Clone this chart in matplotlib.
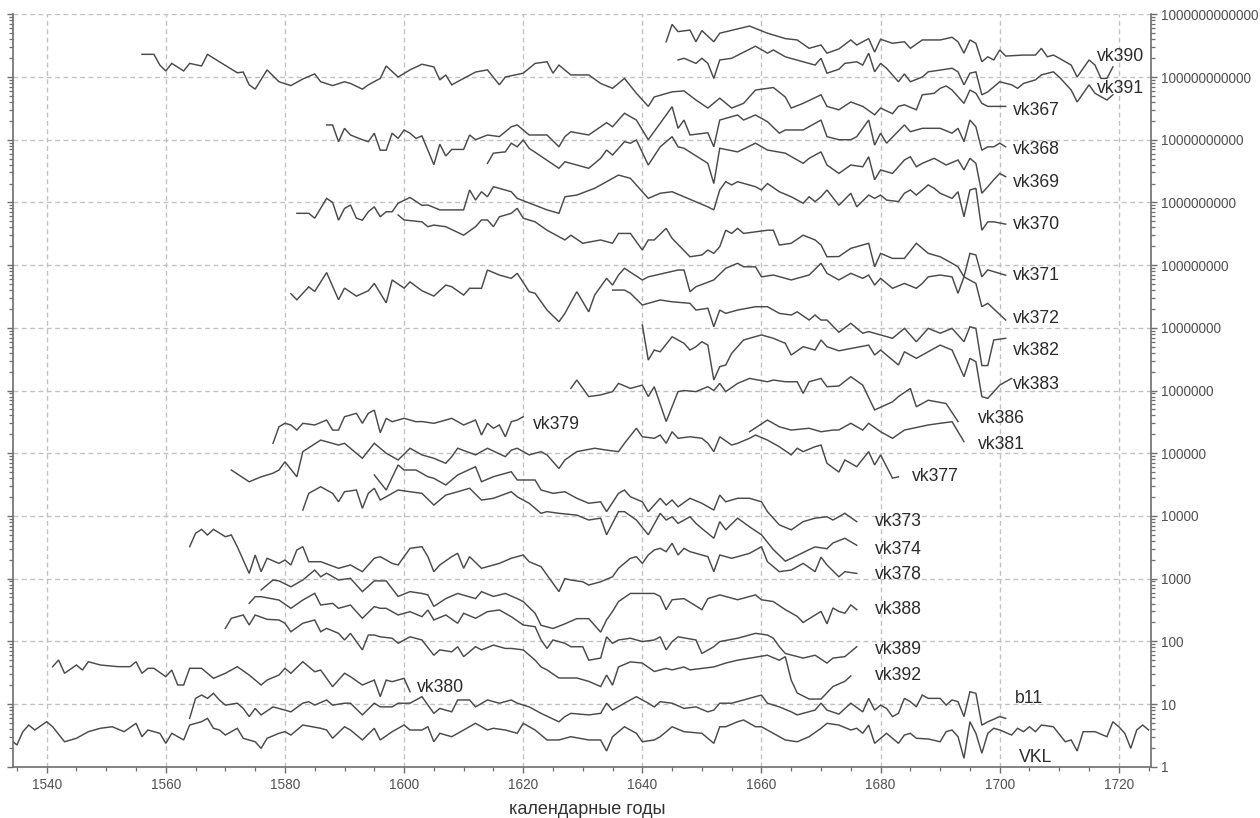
import numpy as np
import matplotlib
matplotlib.use("Agg")
import matplotlib.pyplot as plt
from matplotlib.ticker import FixedLocator, MultipleLocator, LogLocator, FuncFormatter, NullFormatter

plt.rcParams["font.family"] = ["Liberation Sans", "DejaVu Sans"]

# ring-width indices (vertex years), each series is
# drawn as index * its offset factor on the log axis
vk390_years = [1644, 1645, 1646, 1648, 1649, 1650, 1652, 1653, 1658, 1661, 1664, 1666, 1668, 1670, 1671, 1673, 1675,
               1676, 1678, 1679, 1680, 1682, 1684, 1685, 1687, 1690, 1692, 1693, 1694, 1695, 1696, 1697, 1698, 1699,
               1700, 1701, 1704, 1706, 1707, 1708, 1709, 1710, 1712, 1713, 1715, 1716, 1717, 1718, 1719]
vk390_idx = [3.65, 6.9, 5.3, 5.6, 3.65, 5.5, 3.65, 5.0, 6.5, 5.0, 4.1, 3.9, 2.87, 3.24, 2.4, 2.8, 3.9, 3.24, 4.1, 2.5,
             4.0, 3.45, 3.65, 2.87, 3.9, 3.9, 4.3, 3.65, 2.4, 3.9, 3.45, 1.75, 2.1, 1.87, 2.7, 2.16, 2.24, 2.24, 2.87,
             2.1, 2.24, 1.99, 1.55, 1.0, 1.87, 1.55, 0.95, 0.95, 1.45]

vk391_years = [1646, 1647, 1649, 1650, 1651, 1652, 1653, 1655, 1659, 1661, 1662, 1664, 1667, 1669, 1670, 1671, 1673,
               1674, 1676, 1677, 1678, 1679, 1680, 1681, 1683, 1684, 1685, 1687, 1688, 1690, 1692, 1693, 1694, 1695,
               1696, 1697, 1698, 1700, 1702, 1703, 1704, 1706, 1707, 1709, 1710, 1712, 1713, 1715, 1716, 1718, 1719]
vk391_idx = [1.87, 1.99, 1.65, 1.99, 1.65, 0.95, 1.87, 1.99, 3.1, 2.4, 2.7, 2.1, 1.75, 1.55, 1.99, 1.15, 1.33, 1.65,
             1.75, 1.55, 2.4, 1.21, 1.65, 1.38, 0.84, 1.12, 0.84, 1.0, 1.21, 1.29, 1.38, 1.21, 0.75, 1.15, 1.21, 0.52,
             0.58, 0.84, 0.75, 0.66, 0.79, 0.9, 1.08, 1.21, 1.0, 0.62, 0.4, 0.75, 0.55, 0.43, 0.52]

vk367_years = [1556, 1558, 1559, 1560, 1561, 1563, 1564, 1566, 1567, 1569, 1572, 1573, 1574, 1575, 1577, 1579, 1581,
               1583, 1585, 1586, 1588, 1590, 1591, 1593, 1594, 1596, 1597, 1599, 1601, 1603, 1605, 1606, 1607, 1608,
               1610, 1612, 1614, 1616, 1617, 1620, 1622, 1624, 1625, 1626, 1628, 1631, 1633, 1635, 1637, 1639, 1641,
               1642, 1645, 1647, 1649, 1651, 1653, 1655, 1657, 1659, 1662, 1664, 1665, 1667, 1670, 1671, 1673, 1675,
               1677, 1679, 1680, 1682, 1683, 1684, 1686, 1687, 1689, 1690, 1691, 1692, 1694, 1695, 1696, 1697, 1698,
               1701]
vk367_idx = [2.3, 2.3, 1.55, 1.25, 1.65, 1.25, 1.65, 1.5, 2.3, 1.75, 1.17, 1.2, 0.75, 0.64, 1.3, 0.84, 0.73, 0.93,
             1.12, 0.84, 0.73, 0.84, 0.79, 0.64, 0.75, 0.95, 1.5, 1.0, 1.3, 1.6, 1.45, 0.9, 1.08, 0.75, 0.95, 1.2, 1.3,
             0.75, 1.0, 1.15, 1.65, 1.75, 1.15, 1.55, 1.08, 1.08, 0.79, 0.66, 0.95, 0.55, 0.34, 0.48, 0.58, 0.6, 0.43,
             0.32, 0.46, 0.32, 0.38, 0.62, 0.68, 0.48, 0.32, 0.38, 0.52, 0.34, 0.3, 0.4, 0.34, 0.25, 0.32, 0.26, 0.34,
             0.36, 0.3, 0.52, 0.55, 0.66, 0.72, 0.62, 0.38, 0.62, 0.55, 0.38, 0.34, 0.34]

vk368_years = [1587, 1588, 1589, 1590, 1591, 1593, 1594, 1595, 1596, 1597, 1598, 1599, 1600, 1601, 1602, 1603, 1605,
               1606, 1607, 1608, 1610, 1611, 1612, 1614, 1616, 1618, 1619, 1621, 1624, 1626, 1627, 1628, 1631, 1634,
               1635, 1637, 1639, 1641, 1643, 1645, 1646, 1647, 1648, 1651, 1652, 1653, 1656, 1657, 1659, 1661, 1663,
               1664, 1667, 1670, 1671, 1673, 1675, 1676, 1678, 1679, 1680, 1681, 1684, 1685, 1687, 1690, 1692, 1693,
               1694, 1695, 1696, 1697, 1698, 1699, 1700, 1701]
vk368_idx = [1.72, 1.72, 0.93, 1.52, 1.19, 1.0, 0.93, 1.27, 0.68, 0.68, 1.27, 1.05, 1.43, 1.27, 1.05, 1.15, 0.4, 0.85,
             0.55, 0.7, 0.7, 1.19, 1.0, 1.19, 1.12, 1.61, 1.72, 1.19, 1.19, 0.77, 1.12, 1.34, 1.19, 1.87, 1.61, 2.64,
             2.06, 1.0, 1.83, 3.36, 1.52, 2.06, 1.19, 1.29, 0.77, 2.06, 2.48, 2.06, 2.48, 1.94, 1.27, 1.43, 1.43, 2.06,
             1.12, 1.0, 1.0, 1.12, 2.06, 0.82, 1.27, 0.88, 1.72, 1.34, 1.52, 1.52, 1.27, 1.52, 0.93, 2.06, 1.61, 0.68,
             0.77, 0.77, 0.88, 0.77]

vk369_years = [1614, 1615, 1617, 1618, 1619, 1620, 1621, 1626, 1627, 1629, 1631, 1633, 1634, 1635, 1637, 1638, 1639,
               1641, 1643, 1645, 1646, 1647, 1651, 1652, 1653, 1656, 1659, 1661, 1664, 1667, 1668, 1670, 1671, 1673,
               1675, 1677, 1678, 1679, 1680, 1682, 1684, 1685, 1686, 1687, 1689, 1691, 1693, 1694, 1695, 1696, 1697,
               1698, 1699, 1700, 1701]
vk369_idx = [4.2, 6.1, 6.4, 8.8, 7.7, 9.9, 7.3, 3.5, 4.45, 3.95, 3.5, 5.05, 6.85, 5.7, 9.3, 8.8, 9.9, 3.95, 7.7, 11.2,
             7.7, 7.3, 4.2, 2.0, 7.3, 6.4, 8.8, 6.85, 6.1, 4.2, 5.05, 6.4, 3.95, 2.9, 3.95, 3.7, 5.35, 2.3, 3.3, 2.9,
             4.75, 5.35, 3.7, 4.2, 5.05, 3.95, 4.75, 3.3, 5.05, 4.2, 1.4, 1.78, 2.3, 2.9, 2.57]

vk370_years = [1582, 1584, 1585, 1587, 1588, 1589, 1590, 1591, 1592, 1593, 1594, 1595, 1596, 1597, 1598, 1599, 1601,
               1603, 1604, 1606, 1610, 1611, 1612, 1613, 1614, 1615, 1618, 1619, 1624, 1626, 1627, 1629, 1632, 1634,
               1636, 1638, 1641, 1643, 1645, 1647, 1651, 1652, 1653, 1654, 1655, 1656, 1659, 1660, 1661, 1663, 1665,
               1667, 1668, 1669, 1670, 1671, 1673, 1675, 1676, 1678, 1679, 1680, 1681, 1683, 1684, 1685, 1686, 1688,
               1689, 1690, 1692, 1693, 1694, 1695, 1696, 1697, 1698, 1699, 1701]
vk370_idx = [0.67, 0.67, 0.56, 1.16, 1.0, 0.52, 0.8, 0.91, 0.56, 0.52, 0.71, 0.85, 0.59, 0.71, 0.71, 0.97, 1.2, 0.9,
             0.91, 0.76, 0.76, 1.58, 1.09, 1.48, 1.23, 1.78, 1.48, 1.16, 0.76, 0.67, 1.23, 1.31, 1.68, 2.14, 2.73, 2.42,
             1.16, 1.4, 1.48, 1.23, 0.85, 0.76, 1.58, 2.14, 1.9, 2.14, 1.78, 1.58, 2.0, 1.48, 1.23, 0.97, 1.23, 1.03,
             1.23, 1.58, 0.9, 1.4, 0.85, 1.31, 1.16, 1.31, 1.09, 1.03, 1.4, 1.58, 1.31, 1.9, 1.68, 1.4, 1.16, 1.48,
             0.59, 1.58, 1.68, 0.36, 0.49, 0.49, 0.45]

vk371_years = [1599, 1600, 1603, 1604, 1605, 1607, 1610, 1612, 1613, 1614, 1615, 1616, 1618, 1619, 1620, 1622, 1624,
               1626, 1627, 1628, 1630, 1633, 1635, 1636, 1638, 1640, 1641, 1642, 1644, 1645, 1648, 1650, 1651, 1652,
               1653, 1654, 1655, 1656, 1657, 1661, 1662, 1663, 1665, 1667, 1669, 1670, 1671, 1673, 1675, 1678, 1679,
               1680, 1682, 1684, 1686, 1688, 1690, 1692, 1693, 1694, 1695, 1696, 1697, 1698, 1701]
vk371_idx = [6.3, 5.25, 4.9, 4.1, 4.35, 4.1, 3.0, 4.1, 5.25, 5.25, 4.1, 5.9, 6.7, 8.05, 5.6, 4.9, 3.6, 2.84, 2.52, 3.0,
             2.23, 2.52, 2.23, 3.2, 3.2, 1.74, 2.52, 2.52, 3.86, 2.67, 1.36, 1.45, 1.74, 1.54, 1.97, 3.6, 3.2, 3.86,
             3.2, 3.6, 3.6, 2.09, 2.23, 3.0, 2.52, 2.09, 1.36, 1.37, 1.85, 2.23, 0.94, 1.54, 1.28, 1.28, 2.23, 1.54,
             1.36, 1.07, 0.94, 0.65, 1.54, 1.45, 0.65, 0.84, 0.69]

vk372_years = [1581, 1582, 1584, 1585, 1587, 1589, 1590, 1592, 1594, 1595, 1597, 1598, 1600, 1601, 1603, 1605, 1607,
               1608, 1610, 1611, 1613, 1614, 1616, 1618, 1619, 1621, 1622, 1624, 1626, 1627, 1629, 1630, 1631, 1632,
               1634, 1635, 1636, 1637, 1640, 1641, 1646, 1647, 1648, 1649, 1652, 1654, 1656, 1657, 1659, 1660, 1662,
               1665, 1668, 1670, 1671, 1673, 1675, 1677, 1678, 1679, 1680, 1682, 1684, 1686, 1687, 1688, 1690, 1692,
               1693, 1694, 1696, 1697, 1698, 1701]
vk372_idx = [3.5, 2.8, 4.5, 3.8, 7.6, 2.8, 4.3, 3.2, 3.9, 5.1, 2.5, 5.8, 4.3, 5.4, 3.9, 3.21, 4.8, 4.52, 3.33, 4.27,
             4.27, 8.35, 6.95, 6.15, 7.4, 3.77, 3.55, 1.92, 1.25, 1.7, 3.77, 2.6, 1.8, 3.33, 6.15, 4.8, 6.95, 8.9, 5.8,
             6.5, 8.35, 8.35, 3.77, 4.52, 5.8, 8.9, 10.7, 9.4, 9.4, 6.5, 6.95, 5.8, 6.95, 10.7, 7.4, 5.8, 7.4, 6.15,
             6.95, 4.8, 6.15, 4.27, 5.1, 4.27, 5.1, 6.5, 6.95, 6.5, 3.55, 6.5, 5.1, 2.17, 2.46, 1.33]

vk382_years = [1635, 1637, 1638, 1640, 1643, 1645, 1648, 1649, 1651, 1652, 1653, 1654, 1656, 1659, 1661, 1663, 1665,
               1666, 1668, 1669, 1670, 1671, 1673, 1675, 1677, 1678, 1680, 1682, 1684, 1686, 1688, 1690, 1692, 1694,
               1695, 1696, 1697, 1698, 1699, 1701]
vk382_idx = [4.0, 4.0, 3.55, 2.31, 2.78, 2.6, 2.46, 1.92, 2.05, 1.04, 1.92, 1.7, 1.92, 2.17, 2.17, 1.7, 1.6, 1.8, 1.33,
             1.6, 1.33, 1.33, 0.85, 1.18, 0.82, 0.87, 0.77, 0.68, 0.98, 0.6, 0.98, 0.82, 0.98, 0.6, 1.04, 0.98, 0.25,
             0.25, 0.64, 0.68]

vk383_years = [1640, 1641, 1642, 1643, 1645, 1647, 1648, 1649, 1650, 1651, 1652, 1653, 1654, 1655, 1657, 1660, 1662,
               1664, 1665, 1667, 1669, 1670, 1671, 1673, 1678, 1679, 1680, 1683, 1684, 1686, 1690, 1692, 1694, 1695,
               1696, 1697, 1698, 1700, 1701, 1702]
vk383_idx = [11.1, 3.06, 4.42, 4.15, 7.2, 5.66, 4.42, 5.0, 6.0, 5.3, 1.47, 2.4, 2.55, 3.92, 6.4, 7.7, 6.8, 5.66, 3.68,
             5.0, 4.42, 6.4, 5.0, 4.3, 5.3, 3.68, 4.42, 2.55, 4.15, 3.26, 5.3, 4.42, 1.66, 3.26, 2.88, 0.8, 0.75, 1.22,
             1.38, 1.56]

vk386_years = [1628, 1629, 1631, 1633, 1635, 1636, 1638, 1640, 1641, 1642, 1644, 1646, 1647, 1649, 1651, 1652, 1653,
               1654, 1656, 1658, 1661, 1662, 1664, 1666, 1667, 1668, 1670, 1671, 1673, 1675, 1677, 1679, 1682, 1683,
               1685, 1686, 1688, 1691, 1693]
vk386_idx = [1.08, 1.47, 0.8, 0.85, 0.96, 1.3, 1.08, 1.22, 0.8, 1.15, 0.32, 0.96, 1.0, 0.96, 1.15, 1.0, 1.3, 0.96, 1.3,
             1.56, 1.38, 1.47, 1.38, 1.38, 0.9, 1.38, 1.56, 1.15, 1.18, 1.66, 1.22, 0.49, 0.66, 0.8, 1.08, 0.55, 0.7,
             0.62, 0.32]

vk381_years = [1658, 1661, 1663, 1665, 1668, 1670, 1672, 1673, 1675, 1677, 1678, 1680, 1682, 1684, 1688, 1690, 1692,
               1694]
vk381_idx = [2.2, 3.38, 2.64, 2.34, 2.5, 2.2, 2.34, 2.35, 3.0, 2.34, 3.0, 2.2, 1.73, 2.34, 2.82, 3.0, 3.18, 1.53]

vk379_years = [1578, 1579, 1580, 1581, 1582, 1583, 1585, 1587, 1588, 1589, 1590, 1592, 1593, 1594, 1595, 1596, 1597,
               1598, 1600, 1602, 1603, 1605, 1607, 1608, 1610, 1612, 1613, 1614, 1615, 1616, 1617, 1618, 1619, 1620]
vk379_idx = [1.44, 2.64, 3.0, 2.82, 2.34, 3.0, 2.82, 3.38, 2.34, 2.34, 3.82, 4.33, 3.0, 4.33, 4.88, 2.12, 3.6, 3.18,
             3.6, 3.18, 3.2, 3.0, 3.38, 3.6, 2.82, 3.38, 1.95, 3.0, 2.5, 2.82, 1.83, 3.18, 3.38, 3.82]

vk377_years = [1571, 1574, 1576, 1578, 1579, 1580, 1582, 1583, 1586, 1589, 1590, 1593, 1595, 1597, 1599, 1601, 1603,
               1605, 1607, 1608, 1609, 1612, 1614, 1617, 1618, 1619, 1621, 1623, 1624, 1626, 1627, 1629, 1632, 1634,
               1636, 1637, 1639, 1640, 1642, 1643, 1644, 1645, 1646, 1648, 1650, 1651, 1652, 1653, 1655, 1656, 1658,
               1659, 1661, 1663, 1665, 1666, 1667, 1669, 1670, 1671, 1673, 1674, 1676, 1678, 1679, 1680, 1682, 1683]
vk377_idx = [0.54, 0.35, 0.42, 0.48, 0.54, 0.73, 0.42, 1.06, 1.62, 1.35, 1.44, 0.83, 1.44, 1.0, 0.78, 1.2, 0.94, 0.83,
             0.69, 0.88, 1.2, 0.94, 1.2, 0.88, 1.12, 1.2, 0.94, 1.06, 0.94, 0.57, 0.78, 1.06, 1.2, 1.12, 1.06, 1.44,
             2.5, 1.83, 1.73, 1.95, 1.44, 2.2, 1.73, 1.83, 1.73, 1.44, 1.06, 1.83, 1.35, 1.44, 1.73, 1.95, 1.62, 1.27,
             0.94, 1.2, 1.06, 1.27, 1.35, 0.69, 0.5, 0.78, 0.61, 1.06, 0.65, 0.94, 0.4, 0.42]

vk373_years = [1595, 1597, 1599, 1600, 1602, 1604, 1605, 1607, 1609, 1612, 1613, 1615, 1618, 1619, 1622, 1623, 1625,
               1627, 1629, 1631, 1633, 1634, 1636, 1637, 1638, 1640, 1641, 1643, 1644, 1645, 1646, 1648, 1650, 1652,
               1653, 1654, 1656, 1658, 1660, 1661, 1663, 1665, 1667, 1669, 1671, 1672, 1674, 1676]
vk373_idx = [4.5, 2.59, 6.5, 5.4, 5.4, 4.22, 3.98, 3.11, 4.5, 6.1, 3.51, 4.22, 5.07, 3.74, 3.74, 2.59, 2.29, 2.43,
             1.91, 1.59, 1.68, 1.17, 2.29, 2.59, 2.02, 1.68, 1.17, 1.91, 1.49, 1.79, 1.4, 1.91, 1.59, 1.24, 2.15, 1.68,
             1.91, 1.91, 1.68, 1.17, 0.72, 0.6, 0.81, 0.92, 0.97, 0.86, 1.1, 0.81]

vk374_years = [1583, 1584, 1586, 1588, 1589, 1590, 1592, 1593, 1594, 1595, 1596, 1598, 1599, 1601, 1603, 1605, 1607,
               1609, 1611, 1613, 1615, 1618, 1619, 1621, 1623, 1624, 1626, 1629, 1631, 1633, 1634, 1636, 1637, 1639,
               1641, 1643, 1644, 1645, 1646, 1648, 1649, 1650, 1652, 1653, 1654, 1656, 1658, 1660, 1662, 1664, 1665,
               1668, 1669, 1671, 1672, 1674, 1676]
vk374_idx = [1.24, 2.29, 2.92, 2.29, 1.68, 2.43, 2.59, 1.32, 2.29, 2.76, 1.79, 2.29, 2.59, 2.43, 2.29, 1.49, 2.15,
             2.43, 2.76, 1.79, 1.91, 2.43, 2.02, 1.59, 1.1, 1.17, 1.1, 1.03, 0.86, 0.92, 0.5, 1.17, 1.17, 0.86, 0.5,
             1.1, 0.86, 0.97, 0.76, 0.97, 0.76, 0.63, 0.44, 0.81, 0.6, 0.92, 0.67, 0.5, 0.29, 0.19, 0.21, 0.29, 0.32,
             0.3, 0.37, 0.44, 0.34]

vk378_years = [1564, 1565, 1566, 1567, 1568, 1570, 1571, 1572, 1574, 1575, 1576, 1577, 1579, 1580, 1581, 1582, 1583,
               1584, 1586, 1589, 1591, 1593, 1595, 1596, 1598, 1599, 1601, 1603, 1604, 1605, 1606, 1608, 1609, 1610,
               1611, 1613, 1616, 1618, 1620, 1621, 1623, 1624, 1626, 1627, 1628, 1630, 1631, 1633, 1635, 1636, 1638,
               1639, 1640, 1641, 1642, 1643, 1644, 1645, 1646, 1647, 1648, 1651, 1652, 1653, 1655, 1656, 1658, 1660,
               1661, 1663, 1665, 1667, 1669, 1670, 1671, 1673, 1674, 1676]
vk378_idx = [3.23, 5.28, 6.1, 4.96, 6.1, 4.66, 4.96, 3.23, 1.21, 2.38, 1.29, 2.11, 1.75, 1.98, 1.65, 2.86, 3.23, 1.86,
             1.86, 1.46, 1.65, 1.29, 2.11, 2.24, 1.75, 1.65, 3.04, 3.23, 2.24, 1.29, 1.65, 2.24, 2.53, 1.46, 2.24, 1.46,
             1.75, 2.11, 2.38, 1.86, 1.55, 1.14, 0.62, 1.0, 0.95, 0.89, 0.79, 0.89, 1.07, 1.46, 2.11, 2.24, 1.75, 2.38,
             2.86, 3.04, 2.69, 3.66, 2.38, 3.04, 2.69, 2.24, 1.29, 2.38, 2.11, 2.24, 2.53, 3.23, 1.86, 1.29, 1.37, 1.75,
             1.29, 2.2, 1.65, 1.07, 1.29, 1.21]

vk388_years = [1576, 1578, 1579, 1581, 1583, 1585, 1586, 1587, 1589, 1591, 1593, 1595, 1597, 1599, 1601, 1603, 1604,
               1605, 1607, 1609, 1612, 1613, 1615, 1617, 1619, 1620, 1622, 1623, 1625, 1627, 1629, 1631, 1633, 1634,
               1635, 1636, 1638, 1642, 1643, 1644, 1645, 1647, 1650, 1651, 1653, 1656, 1659, 1660, 1662, 1664, 1666,
               1667, 1670, 1671, 1672, 1673, 1674, 1675, 1676]
vk388_idx = [0.66, 0.95, 0.92, 0.74, 0.95, 1.37, 1.07, 1.22, 0.95, 1.01, 0.62, 0.92, 0.92, 0.52, 0.62, 0.58, 0.55,
             0.36, 0.48, 0.58, 0.48, 0.62, 0.52, 0.58, 0.48, 0.43, 0.28, 0.18, 0.16, 0.19, 0.23, 0.23, 0.14, 0.22, 0.3,
             0.43, 0.58, 0.58, 0.52, 0.32, 0.46, 0.48, 0.32, 0.48, 0.55, 0.46, 0.55, 0.46, 0.43, 0.32, 0.25, 0.2, 0.3,
             0.19, 0.34, 0.3, 0.28, 0.38, 0.32]

vk389_years = [1574, 1575, 1576, 1579, 1581, 1583, 1585, 1586, 1588, 1589, 1591, 1593, 1595, 1596, 1597, 1599, 1601,
               1603, 1604, 1605, 1607, 1609, 1610, 1612, 1614, 1616, 1618, 1620, 1622, 1623, 1624, 1625, 1627, 1628,
               1630, 1631, 1633, 1634, 1635, 1636, 1638, 1640, 1642, 1643, 1644, 1645, 1646, 1649, 1650, 1652, 1653,
               1656, 1659, 1661, 1662, 1663, 1664, 1667, 1669, 1671, 1672, 1674, 1676]
vk389_idx = [4.03, 5.15, 5.15, 4.55, 3.36, 4.55, 5.83, 3.79, 4.03, 3.36, 3.79, 2.33, 3.57, 3.36, 3.36, 2.63, 2.97,
             2.47, 3.16, 2.19, 2.63, 1.94, 2.8, 2.33, 2.97, 3.16, 2.47, 1.82, 1.71, 1.05, 0.77, 1.05, 0.93, 0.82, 0.82,
             0.5, 0.54, 1.18, 0.93, 1.05, 1.12, 0.99, 1.05, 1.18, 0.73, 0.99, 1.18, 1.05, 0.64, 0.82, 0.99, 1.12, 1.34,
             1.26, 1.12, 0.82, 0.64, 0.54, 0.6, 0.45, 0.54, 0.57, 0.82]

vk392_years = [1570, 1571, 1573, 1574, 1575, 1577, 1579, 1580, 1581, 1583, 1585, 1586, 1587, 1589, 1590, 1591, 1593,
               1594, 1595, 1596, 1598, 1599, 1601, 1603, 1605, 1606, 1608, 1609, 1610, 1612, 1613, 1615, 1617, 1618,
               1620, 1622, 1623, 1624, 1626, 1629, 1631, 1633, 1634, 1635, 1636, 1638, 1640, 1642, 1644, 1645, 1647,
               1648, 1650, 1652, 1654, 1656, 1661, 1663, 1664, 1665, 1666, 1668, 1670, 1672, 1674, 1675]
vk392_idx = [1.61, 2.33, 2.63, 1.82, 2.63, 2.24, 2.19, 1.94, 1.42, 1.94, 2.19, 1.42, 1.61, 1.34, 1.05, 1.34, 0.73, 1.26,
             1.26, 1.18, 1.12, 0.93, 1.18, 1.05, 0.6, 0.73, 0.68, 0.82, 0.57, 0.82, 0.73, 0.87, 0.77, 0.77, 0.73, 0.5,
             0.39, 0.35, 0.26, 0.26, 0.23, 0.19, 0.29, 0.2, 0.39, 0.47, 0.45, 0.33, 0.37, 0.35, 0.39, 0.35, 0.37, 0.39,
             0.45, 0.5, 0.6, 0.5, 0.57, 0.24, 0.15, 0.12, 0.12, 0.19, 0.23, 0.28]

vk380_years = [1541, 1542, 1543, 1545, 1546, 1547, 1549, 1552, 1554, 1555, 1556, 1557, 1558, 1560, 1561, 1562, 1563,
               1564, 1566, 1568, 1570, 1572, 1574, 1576, 1577, 1579, 1580, 1581, 1583, 1585, 1586, 1588, 1590, 1591,
               1593, 1595, 1596, 1597, 1598, 1600, 1601]
vk380_idx = [3.94, 5.03, 3.09, 4.19, 3.48, 4.73, 4.19, 3.94, 3.94, 4.73, 3.09, 3.71, 3.71, 2.73, 3.48, 2.01, 2.01, 3.71,
             3.71, 2.57, 3.09, 3.94, 2.9, 2.01, 2.41, 2.9, 3.71, 3.09, 4.73, 3.27, 3.48, 1.89, 3.09, 2.73, 2.01, 2.41,
             1.31, 2.41, 2.27, 2.57, 1.57]

b11_years = [1564, 1565, 1566, 1567, 1568, 1569, 1570, 1572, 1573, 1574, 1575, 1576, 1578, 1580, 1581, 1583, 1584,
             1585, 1587, 1588, 1590, 1591, 1593, 1595, 1596, 1598, 1599, 1601, 1603, 1605, 1606, 1608, 1609, 1611,
             1612, 1614, 1616, 1618, 1619, 1621, 1623, 1626, 1627, 1628, 1631, 1633, 1634, 1635, 1637, 1639, 1641,
             1642, 1643, 1645, 1647, 1649, 1651, 1652, 1653, 1655, 1657, 1659, 1660, 1661, 1663, 1665, 1666, 1669,
             1670, 1671, 1673, 1675, 1677, 1678, 1679, 1680, 1681, 1682, 1683, 1684, 1685, 1686, 1687, 1688, 1690,
             1691, 1692, 1693, 1694, 1695, 1696, 1697, 1698, 1700, 1701]
b11_idx = [0.59, 1.23, 1.39, 1.23, 1.48, 1.16, 0.96, 1.03, 0.85, 0.63, 0.85, 0.67, 0.9, 0.8, 0.75, 1.03, 1.09, 0.96,
           1.16, 0.96, 1.03, 1.03, 0.67, 1.03, 0.9, 0.9, 1.03, 1.03, 1.31, 0.71, 0.85, 0.75, 1.16, 1.16, 0.9, 1.16,
           1.03, 1.16, 1.03, 0.9, 0.71, 0.52, 0.63, 0.71, 0.67, 0.71, 1.03, 0.8, 1.03, 1.31, 1.03, 0.9, 1.09, 1.03,
           0.85, 0.9, 0.75, 0.8, 1.03, 1.03, 1.16, 1.31, 1.39, 1.03, 0.9, 0.75, 0.67, 0.8, 1.03, 0.8, 0.69, 1.03, 0.75,
           1.23, 0.8, 0.96, 0.85, 0.63, 0.71, 1.23, 1.09, 0.9, 1.39, 1.23, 1.23, 0.96, 1.16, 1.09, 0.63, 1.57, 1.48,
           0.46, 0.52, 0.63, 0.59]

vkl_years = [1534, 1535, 1536, 1537, 1538, 1540, 1541, 1543, 1545, 1547, 1549, 1551, 1553, 1555, 1556, 1557, 1559,
             1560, 1561, 1563, 1564, 1566, 1567, 1568, 1569, 1570, 1572, 1573, 1575, 1576, 1577, 1579, 1580, 1581,
             1583, 1586, 1587, 1588, 1590, 1591, 1593, 1595, 1596, 1598, 1600, 1601, 1603, 1604, 1605, 1606, 1608,
             1610, 1612, 1614, 1615, 1617, 1619, 1620, 1622, 1624, 1626, 1628, 1631, 1633, 1634, 1635, 1637, 1639,
             1640, 1642, 1643, 1645, 1647, 1650, 1652, 1653, 1654, 1656, 1657, 1659, 1660, 1662, 1664, 1666, 1668,
             1670, 1671, 1673, 1675, 1676, 1677, 1678, 1679, 1680, 1681, 1683, 1684, 1685, 1686, 1688, 1690, 1691,
             1692, 1693, 1694, 1695, 1696, 1697, 1698, 1699, 1700, 1702, 1703, 1704, 1705, 1706, 1707, 1709, 1711,
             1712, 1713, 1714, 1716, 1718, 1719, 1720, 1721, 1722, 1723, 1724, 1725]
vkl_idx = [2.67, 2.22, 3.62, 4.62, 3.85, 5.22, 4.34, 2.5, 2.84, 3.62, 4.1, 4.34, 3.62, 4.92, 3.01, 3.85, 3.41, 2.36,
           3.41, 2.67, 4.62, 5.22, 5.9, 4.1, 3.85, 3.2, 4.1, 2.84, 2.5, 1.96, 2.84, 3.41, 3.62, 3.2, 4.62, 4.1, 3.85,
           2.84, 4.34, 3.85, 2.67, 4.1, 2.67, 3.62, 4.62, 3.85, 3.85, 4.34, 2.5, 3.41, 3.01, 3.85, 4.92, 3.85, 4.1,
           3.85, 3.41, 4.92, 3.85, 2.67, 2.67, 3.01, 2.67, 2.67, 1.78, 3.01, 4.34, 3.41, 2.5, 2.67, 3.01, 4.34, 3.62,
           3.41, 2.36, 4.34, 4.34, 5.22, 5.56, 4.34, 4.34, 3.41, 2.67, 2.5, 3.01, 4.1, 4.92, 4.62, 3.85, 4.1, 3.41,
           4.62, 2.36, 2.84, 3.41, 2.36, 3.2, 3.41, 2.84, 2.77, 2.5, 3.62, 3.85, 3.01, 1.36, 5.22, 3.41, 1.64, 3.41,
           4.1, 3.85, 3.2, 4.1, 3.62, 4.34, 3.62, 4.62, 4.34, 2.5, 2.67, 1.78, 3.62, 3.62, 3.01, 5.22, 4.34, 3.41,
           1.96, 3.85, 4.62, 3.85]

# name, years, index, offset factor
SERIES = [
    ("vk390", vk390_years, vk390_idx, 1e11),
    ("vk391", vk391_years, vk391_idx, 1e11),
    ("vk367", vk367_years, vk367_idx, 1e11),
    ("vk368", vk368_years, vk368_idx, 1e10),
    ("vk369", vk369_years, vk369_idx, 1e9),
    ("vk370", vk370_years, vk370_idx, 1e9),
    ("vk371", vk371_years, vk371_idx, 1e8),
    ("vk372", vk372_years, vk372_idx, 1e7),
    ("vk382", vk382_years, vk382_idx, 1e7),
    ("vk383", vk383_years, vk383_idx, 1e6),
    ("vk386", vk386_years, vk386_idx, 1e6),
    ("vk381", vk381_years, vk381_idx, 1e5),
    ("vk379", vk379_years, vk379_idx, 1e5),
    ("vk377", vk377_years, vk377_idx, 1e5),
    ("vk373", vk373_years, vk373_idx, 1e4),
    ("vk374", vk374_years, vk374_idx, 1e4),
    ("vk378", vk378_years, vk378_idx, 1e3),
    ("vk388", vk388_years, vk388_idx, 1e3),
    ("vk389", vk389_years, vk389_idx, 1e2),
    ("vk392", vk392_years, vk392_idx, 1e2),
    ("vk380", vk380_years, vk380_idx, 1e1),
    ("b11", b11_years, b11_idx, 1e1),
    ("VKL", vkl_years, vkl_idx, 1.0),
]

# label anchor (year, value) - left edge / baseline of each name
LABEL_POS = {
    "vk390": (1716.3, 1.77e11), "vk391": (1716.4, 5.46e10), "vk367": (1702.3, 2.52e10),
    "vk368": (1702.3, 6.02e9), "vk369": (1702.3, 1.73e9), "vk370": (1702.3, 3.70e8),
    "vk371": (1702.3, 5.89e7), "vk372": (1702.3, 1.18e7), "vk382": (1702.3, 3.75e6),
    "vk383": (1702.3, 1.04e6), "vk386": (1696.3, 2.98e5), "vk381": (1696.3, 1.15e5),
    "vk377": (1685.2, 3.54e4), "vk373": (1679.0, 6.78e3), "vk374": (1679.0, 2.51e3),
    "vk378": (1679.0, 968), "vk388": (1679.0, 277), "vk389": (1679.0, 63.9),
    "vk392": (1679.0, 24.6), "b11": (1702.5, 10.2), "VKL": (1703.2, 1.2),
    "vk379": (1621.6, 2.39e5), "vk380": (1602.1, 15.3),
}

LINE_C = "#4a4a4a"
AXIS_C = "#6e6e6e"

fig = plt.figure(figsize=(12.6, 8.18), dpi=100)
ax = fig.add_axes([0.0101, 0.0627, 0.9034, 0.9198])

for name, yrs, idx, fac in SERIES:
    ax.plot(yrs, np.asarray(idx) * fac, color=LINE_C, lw=1.05, solid_joinstyle="miter")
    lx, ly = LABEL_POS[name]
    ax.text(lx, ly, name, fontsize=12.7, color="#2b2b2b", ha="left", va="baseline")

ax.set_yscale("log")
ax.set_xlim(1534.3, 1725.4)
ax.set_ylim(1, 1e12)

ax.xaxis.set_major_locator(MultipleLocator(20))
ax.xaxis.set_minor_locator(MultipleLocator(5))
ax.yaxis.set_major_locator(FixedLocator([10.0 ** k for k in range(13)]))
ax.yaxis.set_minor_locator(LogLocator(base=10, subs=np.arange(2, 10), numticks=200))
ax.yaxis.set_major_formatter(FuncFormatter(lambda v, p: f"{int(round(v))}"))
ax.yaxis.set_minor_formatter(NullFormatter())

ax.tick_params(axis="y", which="both", left=True, right=True, labelleft=False, labelright=True,
               direction="out", colors=AXIS_C, labelcolor="#505050", labelsize=9.8, pad=3)
ax.tick_params(axis="y", which="major", length=4.5, width=1.0)
ax.tick_params(axis="y", which="minor", length=2.8, width=0.9)
ax.tick_params(axis="x", which="both", direction="out", colors=AXIS_C, labelcolor="#505050",
               labelsize=9.8, pad=4)
ax.tick_params(axis="x", which="major", length=4, width=1.0)
ax.tick_params(axis="x", which="minor", length=3, width=0.9)

ax.grid(True, which="major", color="#c2c2c2", linestyle=(0, (3.5, 2.5)), lw=1.0)
ax.set_axisbelow(True)

ax.spines["top"].set_visible(False)
for s in ("left", "right", "bottom"):
    ax.spines[s].set_color(AXIS_C)
    ax.spines[s].set_linewidth(1.2)

fig.text(0.4659, 0.0049, "календарные годы", fontsize=13, color="#333333", ha="center", va="baseline")

fig.savefig("out.png", dpi=100, facecolor="white")
